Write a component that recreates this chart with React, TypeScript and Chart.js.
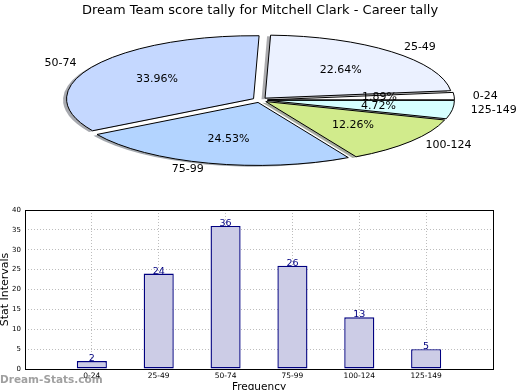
import React, { useEffect, useRef } from 'react';
import { Chart, registerables } from 'chart.js';

Chart.register(...registerables);

// ---------- data ----------
const TITLE = 'Dream Team score tally for Mitchell Clark - Career tally';
const CATEGORIES = ['0-24', '25-49', '50-74', '75-99', '100-124', '125-149'];
const VALUES = [2, 24, 36, 26, 13, 5];
const PIE_COLORS = ['#FFFFFF', '#EBF1FF', '#C5D8FF', '#B3D4FF', '#D1EB8C', '#D6FFFF'];
const X_TITLE = 'Frequency';
const Y_TITLE = 'Stat Intervals';
const WATERMARK = 'Dream-Stats.com';
const Y_MIN = 0;
const Y_MAX = 40;
const Y_STEP = 5;

// ---------- layout / style ----------
const FONT = 'DejaVu Sans';
const PIE_CX = 260;
const PIE_CY = 100;
const RX = 187;
const RY = 63;
const K = RY / RX;
const EXPLODE = 0.04 * RX;
const SHADOW_DX = -3.5;
const SHADOW_DY = 1.2;

Chart.defaults.font.family = FONT;

function shadowColor(hex: string) {
  const n = parseInt(hex.slice(1), 16);
  const r = Math.round(((n >> 16) & 255) * 0.3);
  const g = Math.round(((n >> 8) & 255) * 0.3);
  const b = Math.round((n & 255) * 0.3);
  return `rgba(${r},${g},${b},0.45)`;
}

function toScreen(ctx: CanvasRenderingContext2D, st: { cx: number; cy: number }) {
  ctx.translate(PIE_CX, PIE_CY);
  ctx.scale(1, -K);
  ctx.translate(-st.cx, -st.cy);
}

function arcPath(ctx: CanvasRenderingContext2D, el: any) {
  ctx.moveTo(el.x, el.y);
  ctx.arc(el.x, el.y, el.outerRadius, el.startAngle, el.endAngle);
  ctx.closePath();
}

const piePlugin = {
  id: 'ellipsePie',
  afterDatasetsUpdate(chart: any) {
    const meta = chart.getDatasetMeta(0);
    const st = { cx: 0, cy: 0 };
    meta.data.forEach((el: any, i: number) => {
      if (i === 0) {
        st.cx = el.x;
        st.cy = el.y;
      }
      const mid = (el.startAngle + el.endAngle) / 2;
      el.x += Math.cos(mid) * EXPLODE;
      el.y += Math.sin(mid) * EXPLODE;
    });
    chart.$pie = st;
  },
  beforeDatasetsDraw(chart: any) {
    const ctx: CanvasRenderingContext2D = chart.ctx;
    const st = chart.$pie;
    const meta = chart.getDatasetMeta(0);
    meta.data.forEach((el: any, i: number) => {
      ctx.save();
      ctx.translate(SHADOW_DX, SHADOW_DY);
      toScreen(ctx, st);
      ctx.beginPath();
      arcPath(ctx, el);
      ctx.restore();
      ctx.fillStyle = shadowColor(PIE_COLORS[i]);
      ctx.fill();
    });
    ctx.save();
    toScreen(ctx, st);
  },
  afterDatasetsDraw(chart: any) {
    const ctx: CanvasRenderingContext2D = chart.ctx;
    ctx.restore();
    const st = chart.$pie;
    const meta = chart.getDatasetMeta(0);
    const total = VALUES.reduce((a, b) => a + b, 0);
    meta.data.forEach((el: any) => {
      ctx.save();
      toScreen(ctx, st);
      ctx.beginPath();
      arcPath(ctx, el);
      ctx.restore();
      ctx.save();
      ctx.lineWidth = 1;
      ctx.strokeStyle = '#000';
      ctx.stroke();
      ctx.restore();
    });
    ctx.save();
    ctx.font = `11px ${FONT}`;
    ctx.fillStyle = '#000';
    ctx.textBaseline = 'middle';
    meta.data.forEach((el: any, i: number) => {
      const mid = (el.startAngle + el.endAngle) / 2;
      const R = el.outerRadius;
      const pos = (f: number) => {
        const d = EXPLODE + f * R;
        return { x: PIE_CX + Math.cos(mid) * d, y: PIE_CY - Math.sin(mid) * d * K };
      };
      const lp = pos(1.1);
      ctx.textAlign = lp.x > PIE_CX ? 'left' : 'right';
      ctx.fillText(CATEGORIES[i], lp.x, lp.y);
      const pp = pos(0.6);
      ctx.textAlign = 'center';
      ctx.fillText(((VALUES[i] / total) * 100).toFixed(2) + '%', pp.x, pp.y);
    });
    ctx.restore();
  },
};

const barPlugin = {
  id: 'barDecor',
  afterDatasetsDraw(chart: any) {
    const ctx: CanvasRenderingContext2D = chart.ctx;
    const meta = chart.getDatasetMeta(0);
    ctx.save();
    ctx.font = `9.5px ${FONT}`;
    ctx.fillStyle = '#000080';
    ctx.textAlign = 'center';
    ctx.textBaseline = 'alphabetic';
    meta.data.forEach((el: any, i: number) => {
      ctx.fillText(String(VALUES[i]), el.x, el.y);
    });
    ctx.restore();
  },
  afterDraw(chart: any) {
    const ctx: CanvasRenderingContext2D = chart.ctx;
    const a = chart.chartArea;
    ctx.save();
    ctx.strokeStyle = '#000';
    ctx.lineWidth = 1;
    ctx.strokeRect(a.left + 0.5, a.top + 0.5, a.right - a.left, a.bottom - a.top);
    ctx.fillStyle = '#000';
    ctx.font = `10.5px ${FONT}`;
    ctx.textAlign = 'center';
    ctx.textBaseline = 'top';
    ctx.fillText(X_TITLE, (a.left + a.right) / 2, 382);
    ctx.save();
    ctx.translate(5, (a.top + a.bottom) / 2);
    ctx.rotate(-Math.PI / 2);
    ctx.font = `11px ${FONT}`;
    ctx.textBaseline = 'middle';
    ctx.fillText(Y_TITLE, 0, 0);
    ctx.restore();
    ctx.font = `bold 10.5px ${FONT}`;
    ctx.fillStyle = 'rgba(128,128,128,0.75)';
    ctx.textAlign = 'left';
    ctx.textBaseline = 'middle';
    ctx.fillText(WATERMARK, 0, 380);
    ctx.restore();
  },
};

export default function App() {
  const pieRef = useRef<HTMLCanvasElement>(null);
  const barRef = useRef<HTMLCanvasElement>(null);

  useEffect(() => {
    const pie = new Chart(pieRef.current as HTMLCanvasElement, {
      type: 'pie',
      data: {
        labels: CATEGORIES,
        datasets: [
          {
            data: VALUES,
            backgroundColor: PIE_COLORS,
            borderWidth: 0,
            radius: RX,
            clip: false,
            hoverOffset: 0,
            offset: 0,
          } as any,
        ],
      },
      options: {
        responsive: false,
        animation: false,
        events: [],
        rotation: 90,
        layout: { padding: 0 },
        plugins: {
          legend: { display: false },
          tooltip: { enabled: false },
          title: {
            display: true,
            text: TITLE,
            color: '#000',
            font: { family: FONT, size: 13, weight: 'normal' },
            padding: { top: 3, bottom: 2 },
          },
        },
      } as any,
      plugins: [piePlugin],
    });

    const gridCommon = { color: '#bdbdbd', lineWidth: 1, drawTicks: false, tickLength: 0, offset: false };
    const borderCommon = { display: false, dash: [1, 2] };

    const bar = new Chart(barRef.current as HTMLCanvasElement, {
      type: 'bar',
      data: {
        datasets: [
          {
            data: VALUES.map((v, i) => ({ x: i, y: v })),
            backgroundColor: '#CCCCE6',
            borderColor: '#000080',
            borderWidth: 1.4,
            borderSkipped: false,
            categoryPercentage: 1,
            barPercentage: 0.45,
          } as any,
        ],
      },
      options: {
        responsive: false,
        animation: false,
        events: [],
        layout: { padding: { top: 210, right: 27, left: 0, bottom: 0 } },
        plugins: { legend: { display: false }, tooltip: { enabled: false }, title: { display: false } },
        scales: {
          x: {
            type: 'linear',
            min: -1,
            max: CATEGORIES.length,
            offset: false,
            afterFit: (s: any) => {
              s.height = 21;
            },
            ticks: {
              stepSize: 1,
              autoSkip: false,
              maxRotation: 0,
              padding: 3,
              color: '#000',
              font: { size: 7.5 },
              callback: (v: any) => (Number.isInteger(v) && CATEGORIES[v] !== undefined ? CATEGORIES[v] : ''),
            },
            grid: gridCommon,
            border: borderCommon,
          },
          y: {
            type: 'linear',
            min: Y_MIN,
            max: Y_MAX,
            afterFit: (s: any) => {
              s.width = 25;
            },
            ticks: { stepSize: Y_STEP, padding: 4, color: '#000', font: { size: 7 } },
            grid: gridCommon,
            border: borderCommon,
          },
        },
      } as any,
      plugins: [barPlugin],
    });

    return () => {
      pie.destroy();
      bar.destroy();
    };
  }, []);

  return (
    <div style={{ position: 'fixed', left: 0, top: 0, width: 520, height: 390, background: '#fff', overflow: 'hidden' }}>
      <canvas ref={barRef} width={520} height={390} style={{ position: 'absolute', left: 0, top: 0 }} />
      <canvas ref={pieRef} width={520} height={200} style={{ position: 'absolute', left: 0, top: 0 }} />
    </div>
  );
}
